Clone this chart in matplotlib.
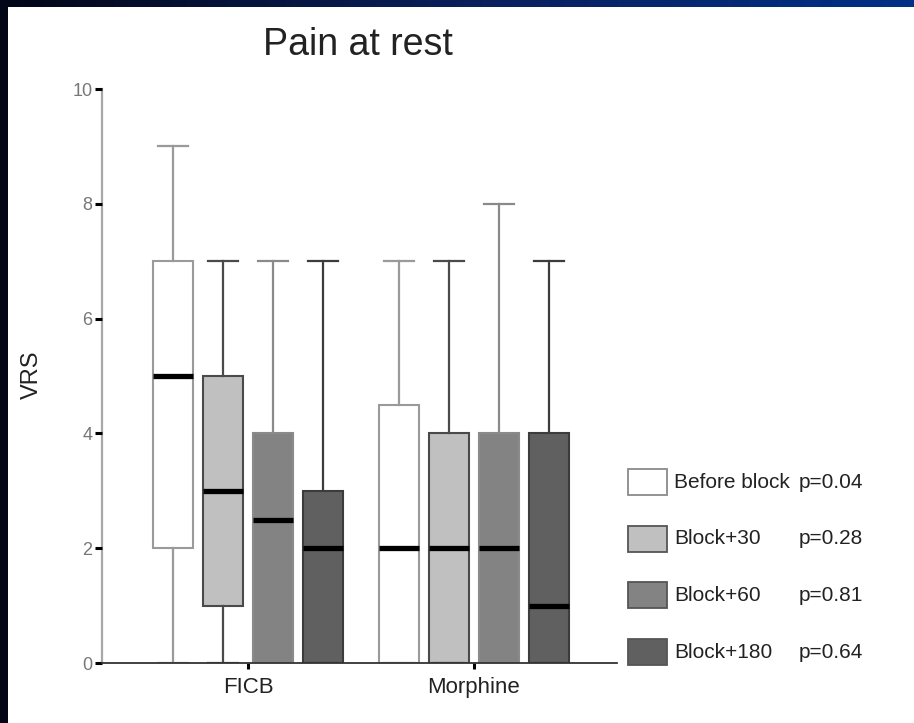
import numpy as np
import matplotlib
matplotlib.use('Agg')
import matplotlib.pyplot as plt
from matplotlib.patches import Rectangle
from matplotlib.colors import LinearSegmentedColormap

plt.rcParams['font.family'] = ['Liberation Sans', 'DejaVu Sans']

# ---- data ----
groups = ['FICB', 'Morphine']
series = ['Before block', 'Block+30', 'Block+60', 'Block+180']
p_values = ['p=0.04', 'p=0.28', 'p=0.81', 'p=0.64']

medians = {'FICB': [5, 3, 2.5, 2], 'Morphine': [2, 2, 2, 1]}
q1 = {'FICB': [2, 1, 0, 0], 'Morphine': [0, 0, 0, 0]}
q3 = {'FICB': [7, 5, 4, 3], 'Morphine': [4.5, 4, 4, 4]}
whis_lo = {'FICB': [0, 0, 0, 0], 'Morphine': [0, 0, 0, 0]}
whis_hi = {'FICB': [9, 7, 7, 7], 'Morphine': [7, 7, 8, 7]}

fills = ['#ffffff', '#c0c0c0', '#838383', '#606060']
edges = ['#9a9a9a', '#4a4a4a', '#8a8a8a', '#3c3c3c']

W, H = 914, 723
fig = plt.figure(figsize=(W / 100, H / 100), dpi=100)
fig.patch.set_facecolor('white')

# slide frame: dark strip on the left, gradient band on top
band = fig.add_axes([0, 1 - 7 / H, 1, 7 / H])
cmap = LinearSegmentedColormap.from_list('slide', ['#020617', '#0a1f5a', '#003087'])
band.imshow(np.linspace(0, 1, 256)[None, :], aspect='auto', cmap=cmap)
band.axis('off')
fig.add_artist(Rectangle((0, 0), 8 / W, 1, transform=fig.transFigure,
                         facecolor='#020617', edgecolor='none'))

ax = fig.add_axes([102 / W, 60 / H, 515 / W, 574 / H])

offsets = np.array([-0.332, -0.11, 0.11, 0.332])
box_w = 0.177
for gi, g in enumerate(groups):
    for si in range(len(series)):
        st = [{'med': medians[g][si], 'q1': q1[g][si], 'q3': q3[g][si],
               'whislo': whis_lo[g][si], 'whishi': whis_hi[g][si]}]
        ax.bxp(st, positions=[gi + offsets[si]], widths=box_w, capwidths=0.133,
               showfliers=False, patch_artist=True,
               boxprops=dict(facecolor=fills[si], edgecolor=edges[si], linewidth=1.5),
               whiskerprops=dict(color=edges[si], linewidth=1.6),
               capprops=dict(color=edges[si], linewidth=1.6),
               medianprops=dict(color='black', linewidth=3.8, solid_capstyle='butt'),
               manage_ticks=False)

ax.set_xlim(-0.646, 1.633)
ax.set_ylim(0, 10)
ax.set_yticks([0, 2, 4, 6, 8, 10])
ax.set_yticklabels(['0', '2', '4', '6', '8', '10'], fontsize=13, color='#777777')
ax.set_xticks(range(len(groups)))
ax.set_xticklabels(groups, fontsize=16, color='#222222')
ax.tick_params(axis='y', length=5, width=2.2, color='black', pad=2)
ax.tick_params(axis='x', length=4, width=2.2, color='black', pad=6)
for s in ['top', 'right']:
    ax.spines[s].set_visible(False)
ax.spines['left'].set_color('#a8a8a8')
ax.spines['left'].set_linewidth(1.6)
ax.spines['bottom'].set_color('#333333')
ax.spines['bottom'].set_linewidth(1.3)
ax.spines['left'].set_zorder(0.5)

fig.text(358 / W, 1 - 55 / H, 'Pain at rest', fontsize=27, ha='center',
         va='baseline', color='#222222')
fig.text(32 / W, 1 - 375 / H, 'VRS', fontsize=17, rotation=90, ha='center',
         va='center', color='#222222')

# legend with p values
for i, (name, p) in enumerate(zip(series, p_values)):
    yc = 482 + i * 56.7
    fig.add_artist(Rectangle((628 / W, 1 - (yc + 13) / H), 39 / W, 26 / H,
                             transform=fig.transFigure, facecolor=fills[i],
                             edgecolor='#555555' if i else '#8a8a8a', linewidth=1.3))
    fig.text(674 / W, 1 - yc / H, name, fontsize=15, va='center', color='#222222')
    fig.text(799 / W, 1 - yc / H, p, fontsize=15, va='center', color='#222222')

fig.savefig('out.png', dpi=100)
